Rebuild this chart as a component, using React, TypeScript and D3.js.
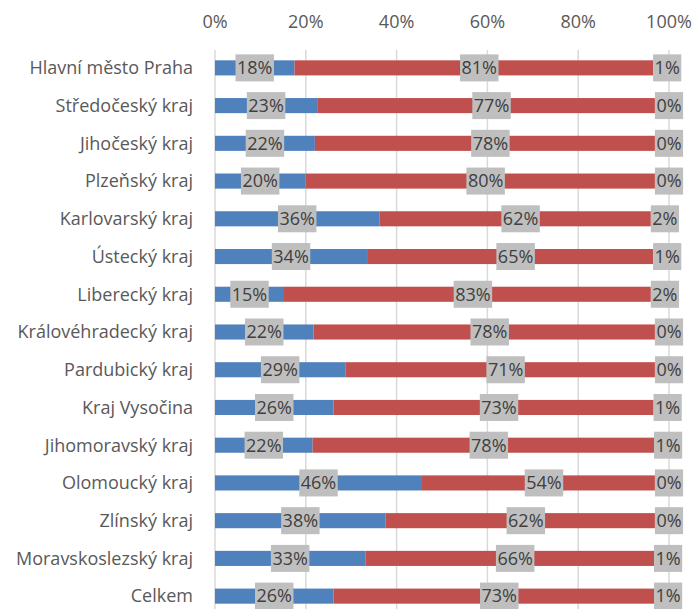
import React, { useRef, useEffect } from 'react';
import * as d3 from 'd3';

// Regions (top to bottom)
const categories = [
  'Hlavní město Praha',
  'Středočeský kraj',
  'Jihočeský kraj',
  'Plzeňský kraj',
  'Karlovarský kraj',
  'Ústecký kraj',
  'Liberecký kraj',
  'Královéhradecký kraj',
  'Pardubický kraj',
  'Kraj Vysočina',
  'Jihomoravský kraj',
  'Olomoucký kraj',
  'Zlínský kraj',
  'Moravskoslezský kraj',
  'Celkem',
];

// bar lengths (share of the axis, %)
const blueValues = [17.5, 22.5, 22.0, 19.9, 36.2, 33.5, 15.2, 21.7, 28.7, 26.1, 21.5, 45.6, 37.6, 33.1, 26.1];
const redValues = [79.0, 74.4, 74.9, 77.0, 59.8, 63.0, 80.8, 75.2, 68.2, 70.5, 75.2, 51.3, 59.3, 63.6, 70.6];

// data labels shown in the chart (%)
const blueLabels = [18, 23, 22, 20, 36, 34, 15, 22, 29, 26, 22, 46, 38, 33, 26];
const redLabels = [81, 77, 78, 80, 62, 65, 83, 78, 71, 73, 78, 54, 62, 66, 73];
const otherLabels = [1, 0, 0, 0, 2, 1, 2, 0, 0, 1, 1, 0, 0, 1, 1];

const ticks = [0, 20, 40, 60, 80, 100];

const FONT = '"Open Sans", sans-serif';

const App = () => {
  const svgRef = useRef<SVGSVGElement>(null);

  useEffect(() => {
    if (!svgRef.current) return;
    const svg = d3.select(svgRef.current);
    svg.selectAll('*').remove();

    const width = 695;
    const height = 609;

    const x = d3.scaleLinear().domain([0, 100]).range([215, 669]);
    const y = d3
      .scaleBand<string>()
      .domain(categories)
      .range([49, 615])
      .paddingInner(0.6)
      .paddingOuter(0.3);

    // vertical gridlines
    svg
      .append('g')
      .selectAll('line')
      .data(ticks)
      .enter()
      .append('line')
      .attr('x1', (d) => x(d))
      .attr('x2', (d) => x(d))
      .attr('y1', 50)
      .attr('y2', height)
      .attr('stroke', '#d9d9d9')
      .attr('stroke-width', 1.5);

    // top axis labels
    svg
      .append('g')
      .selectAll('text')
      .data(ticks)
      .enter()
      .append('text')
      .attr('x', (d) => x(d))
      .attr('y', 28)
      .attr('text-anchor', 'middle')
      .attr('font-family', FONT)
      .attr('font-size', 18)
      .attr('fill', '#595959')
      .text((d) => `${d}%`);

    // category labels
    svg
      .append('g')
      .selectAll('text')
      .data(categories)
      .enter()
      .append('text')
      .attr('x', 193)
      .attr('y', (d) => (y(d) as number) + y.bandwidth() / 2)
      .attr('dy', '0.35em')
      .attr('text-anchor', 'end')
      .attr('font-family', FONT)
      .attr('font-size', 18)
      .attr('fill', '#595959')
      .text((d) => d);

    const rows = categories.map((c, i) => ({
      cat: c,
      blue: blueValues[i],
      red: redValues[i],
      bl: blueLabels[i],
      rl: redLabels[i],
      ol: otherLabels[i],
    }));

    const bars = svg.append('g');
    bars
      .selectAll('.blue')
      .data(rows)
      .enter()
      .append('rect')
      .attr('x', x(0))
      .attr('y', (d) => y(d.cat) as number)
      .attr('width', (d) => x(d.blue) - x(0))
      .attr('height', y.bandwidth())
      .attr('fill', '#4f81bd');

    bars
      .selectAll('.red')
      .data(rows)
      .enter()
      .append('rect')
      .attr('x', (d) => x(d.blue))
      .attr('y', (d) => y(d.cat) as number)
      .attr('width', (d) => x(d.blue + d.red) - x(d.blue))
      .attr('height', y.bandwidth())
      .attr('fill', '#c0504d');

    // data labels with grey boxes
    const labels: { cx: number; cy: number; text: string; anchor: string }[] = [];
    rows.forEach((d) => {
      const cy = (y(d.cat) as number) + y.bandwidth() / 2;
      labels.push({ cx: (x(0) + x(d.blue)) / 2, cy, text: `${d.bl}%`, anchor: 'middle' });
      labels.push({ cx: (x(d.blue) + x(d.blue + d.red)) / 2 + 5.5, cy, text: `${d.rl}%`, anchor: 'middle' });
      labels.push({ cx: x(d.blue + d.red) + 1.5, cy, text: `${d.ol}%`, anchor: 'start' });
    });

    const lg = svg.append('g');
    labels.forEach((l) => {
      const g = lg.append('g');
      const rect = g.append('rect').attr('fill', '#bfbfbf');
      const t = g
        .append('text')
        .attr('x', l.cx)
        .attr('y', l.cy)
        .attr('dy', '0.35em')
        .attr('text-anchor', l.anchor)
        .attr('font-family', FONT)
        .attr('font-size', 18)
        .attr('fill', '#404040')
        .text(l.text);
      const w = (t.node() as SVGTextElement).getComputedTextLength();
      const left = l.anchor === 'middle' ? l.cx - w / 2 : l.cx;
      rect
        .attr('x', left - 1.5)
        .attr('y', l.cy - 13.5)
        .attr('width', w + 3)
        .attr('height', 27);
    });

    svg.attr('width', width).attr('height', height);
  }, []);

  return (
    <svg
      ref={svgRef}
      width={695}
      height={609}
      style={{ position: 'fixed', left: 0, top: 0, background: '#fff' }}
    />
  );
};

export default App;
